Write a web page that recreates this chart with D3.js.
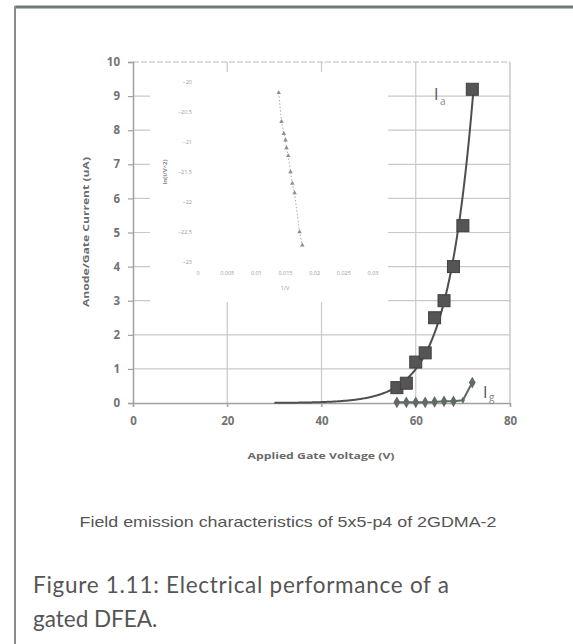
<!DOCTYPE html>
<html>
<head>
<meta charset="utf-8">
<script src="https://cdn.jsdelivr.net/npm/d3@7"></script>
<style>
  body { margin: 0; background: #fff; }
  svg { display: block; }
</style>
</head>
<body>
<div id="chart"></div>
<script>
// main chart data
var gateVolts = [56, 58, 60, 62, 64, 66, 68, 70, 72];
var anodeCurrent = [0.45, 0.58, 1.2, 1.47, 2.5, 3.0, 4.0, 5.2, 9.2];
var gateCurrent = [0.02, 0.02, 0.02, 0.02, 0.03, 0.05, 0.05, 0.08, 0.6];
var xTicks = [0, 20, 40, 60, 80];
var yTicks = [0, 1, 2, 3, 4, 5, 6, 7, 8, 9, 10];

// inset Fowler-Nordheim plot
var fnInvV = [0.01384, 0.01431, 0.01471, 0.0150, 0.01517, 0.01547, 0.01586, 0.01616, 0.01655, 0.01741, 0.01788];
var fnLn = [-20.18, -20.66, -20.86, -20.97, -21.10, -21.23, -21.50, -21.69, -21.85, -22.50, -22.72];
var fnXTicks = [0, 0.005, 0.01, 0.015, 0.02, 0.025, 0.03];
var fnYTicks = [-20, -20.5, -21, -21.5, -22, -22.5, -23];

var svg = d3.select("#chart").append("svg").attr("width", 573).attr("height", 644);
var boldFont = "'Open Sans', 'DejaVu Sans', sans-serif";

// frame round the figure
svg.append("line").attr("x1", 15).attr("x2", 573).attr("y1", 7).attr("y2", 7)
  .attr("stroke", "#6f7a75").attr("stroke-width", 3);
svg.append("line").attr("x1", 15).attr("x2", 15).attr("y1", 6).attr("y2", 644)
  .attr("stroke", "#8a8a8a").attr("stroke-width", 2);

var x = d3.scaleLinear().domain([0, 80]).range([133, 510]);
var y = d3.scaleLinear().domain([0, 10]).range([403, 62]);
var gridCol = "#c9c9c9";
var g = svg.append("g");

// gridlines
g.selectAll(".hg").data(yTicks.filter(d => d > 0 && d < 10)).enter().append("line")
  .attr("x1", x(0)).attr("x2", x(80)).attr("y1", d => y(d)).attr("y2", d => y(d))
  .attr("stroke", gridCol).attr("stroke-width", 1.2);
g.selectAll(".vg").data(xTicks.filter(d => d > 0 && d < 80)).enter().append("line")
  .attr("x1", d => x(d)).attr("x2", d => x(d)).attr("y1", y(10)).attr("y2", y(0) + 4)
  .attr("stroke", gridCol).attr("stroke-width", 1.2);
// plot border
g.append("line").attr("x1", x(0)).attr("x2", x(80)).attr("y1", y(10)).attr("y2", y(10))
  .attr("stroke", "#bbb").attr("stroke-width", 1.2).attr("stroke-dasharray", "6,2");
g.append("line").attr("x1", x(80)).attr("x2", x(80)).attr("y1", y(10)).attr("y2", y(0))
  .attr("stroke", "#bbb").attr("stroke-width", 1.2);

// axes
var xAxis = d3.axisBottom(x).tickValues(xTicks).tickSize(4).tickPadding(10);
var yAxis = d3.axisLeft(y).tickValues(yTicks).tickSize(5).tickPadding(8);
var ax = g.append("g").attr("transform", "translate(0," + y(0) + ")").call(xAxis);
var ay = g.append("g").attr("transform", "translate(" + x(0) + ",0)").call(yAxis);
[ax, ay].forEach(function(a) {
  a.select(".domain").attr("stroke", "#a0a0a0").attr("stroke-width", 1.5);
  a.selectAll(".tick line").attr("stroke", "#a0a0a0").attr("stroke-width", 1.2);
  a.selectAll("text").attr("font-family", boldFont)
    .attr("font-weight", "bold").attr("font-size", 11.5).attr("fill", "#737373");
});

// axis titles
svg.append("text").attr("x", 321).attr("y", 459).attr("text-anchor", "middle")
  .attr("font-family", boldFont).attr("font-weight", "bold").attr("font-size", 9)
  .attr("fill", "#6a6a6a").attr("textLength", 147).attr("lengthAdjust", "spacingAndGlyphs")
  .text("Applied Gate Voltage (V)");
svg.append("text").attr("transform", "translate(89,232) rotate(-90)").attr("text-anchor", "middle")
  .attr("font-family", boldFont).attr("font-weight", "bold").attr("font-size", 9)
  .attr("fill", "#6a6a6a").attr("textLength", 150).attr("lengthAdjust", "spacingAndGlyphs")
  .text("Anode/Gate Current (uA)");

// inset FN plot, white box over the grid
svg.append("rect").attr("x", 150).attr("y", 72).attr("width", 238).attr("height", 230).attr("fill", "#fff");
var fx = d3.scaleLinear().domain([0, 0.03]).range([198, 373]);
var fy = d3.scaleLinear().domain([-20, -23]).range([82, 262]);
var inset = svg.append("g");
inset.selectAll(".fxl").data(fnXTicks).enter().append("text")
  .attr("x", d => fx(d)).attr("y", 275).attr("text-anchor", "middle")
  .attr("font-family", boldFont).attr("font-size", 5.5).attr("fill", "#999")
  .text(d => d3.format("")(d));
inset.selectAll(".fyl").data(fnYTicks).enter().append("text")
  .attr("x", 192).attr("y", d => fy(d) + 2).attr("text-anchor", "end")
  .attr("font-family", boldFont).attr("font-size", 5.5).attr("fill", "#999")
  .text(d => d3.format("")(d));
inset.append("text").attr("x", 285).attr("y", 290).attr("text-anchor", "middle")
  .attr("font-family", boldFont).attr("font-size", 5.5).attr("fill", "#999").text("1/V");
inset.append("text").attr("transform", "translate(167,172) rotate(-90)").attr("text-anchor", "middle")
  .attr("font-family", boldFont).attr("font-weight", "bold").attr("font-size", 6)
  .attr("fill", "#8a8a8a").text("ln(I/V^2)");
var fnPts = fnInvV.map((v, i) => [v, fnLn[i]]);
inset.append("path").datum(fnPts)
  .attr("d", d3.line().x(d => fx(d[0])).y(d => fy(d[1])))
  .attr("fill", "none").attr("stroke", "#aaa").attr("stroke-width", 1).attr("stroke-dasharray", "1.5,2");
inset.selectAll(".fnp").data(fnPts).enter().append("path")
  .attr("transform", d => "translate(" + fx(d[0]) + "," + fy(d[1]) + ")")
  .attr("d", d3.symbol().type(d3.symbolTriangle).size(9))
  .attr("fill", "#8f8f8f");

// exponential trendline, least squares fit on ln(I) like a spreadsheet does
var lnI = anodeCurrent.map(Math.log);
var mv = d3.mean(gateVolts), ml = d3.mean(lnI);
var sxy = d3.sum(gateVolts, (v, i) => (v - mv) * (lnI[i] - ml));
var sxx = d3.sum(gateVolts, v => (v - mv) * (v - mv));
var b = sxy / sxx, a = ml - b * mv;
var trendV = d3.range(30, 72.5, 0.25);
svg.append("path").datum(trendV)
  .attr("d", d3.line().x(v => x(v)).y(v => y(Math.exp(a + b * v))).curve(d3.curveMonotoneX))
  .attr("fill", "none").attr("stroke", "#4f4f4f").attr("stroke-width", 2);

// gate current line and diamonds
var igPts = gateVolts.map((v, i) => [v, gateCurrent[i]]);
svg.append("path").datum(igPts)
  .attr("d", d3.line().x(d => x(d[0])).y(d => y(d[1])))
  .attr("fill", "none").attr("stroke", "#5f6b63").attr("stroke-width", 2);
svg.selectAll(".ig").data(igPts).enter().append("path")
  .attr("transform", d => "translate(" + x(d[0]) + "," + y(d[1]) + ")")
  .attr("d", d3.symbol().type(d3.symbolDiamond).size(d => d[0] === 70 ? 14 : 40))
  .attr("fill", "#5f6b63");

// anode current squares
svg.selectAll(".ia").data(gateVolts).enter().append("rect")
  .attr("x", (v) => x(v) - 6).attr("y", (v, i) => y(anodeCurrent[i]) - 6)
  .attr("width", 12).attr("height", 12)
  .attr("fill", "#555").attr("stroke", "#3f3f3f").attr("stroke-width", 1);

// series labels
var lab = svg.append("g").attr("font-family", boldFont).attr("fill", "#555");
lab.append("text").attr("x", 434).attr("y", 100).attr("font-size", 16).text("I");
lab.append("text").attr("x", 440).attr("y", 105).attr("font-size", 10).attr("fill", "#888").text("a");
lab.append("text").attr("x", 483).attr("y", 398).attr("font-size", 16).text("I");
lab.append("text").attr("x", 489).attr("y", 401).attr("font-size", 10).attr("fill", "#888").text("g");

// captions
svg.append("text").attr("x", 288).attr("y", 527).attr("text-anchor", "middle")
  .attr("font-family", "'Liberation Sans Narrow', 'Liberation Sans', Arial, sans-serif")
  .attr("font-size", 15).attr("fill", "#555").attr("textLength", 417).attr("lengthAdjust", "spacingAndGlyphs")
  .text("Field emission characteristics of 5x5-p4 of 2GDMA-2");
svg.append("text").attr("x", 33).attr("y", 593)
  .attr("font-family", "Lato, 'Open Sans', sans-serif").attr("font-size", 22.5).attr("fill", "#555")
  .attr("textLength", 416).text("Figure 1.11: Electrical performance of a");
svg.append("text").attr("x", 33).attr("y", 627)
  .attr("font-family", "Lato, 'Open Sans', sans-serif").attr("font-size", 22.5).attr("fill", "#555")
  .text("gated DFEA.");
</script>
</body>
</html>
